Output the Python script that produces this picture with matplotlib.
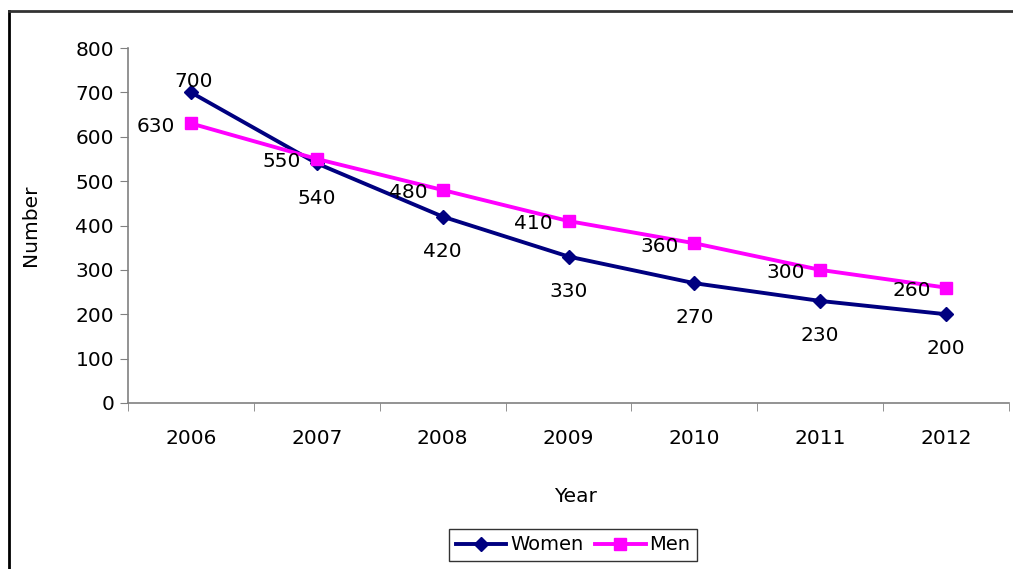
import matplotlib
matplotlib.use("Agg")
import matplotlib.pyplot as plt
from matplotlib.lines import Line2D

years = ["2006", "2007", "2008", "2009", "2010", "2011", "2012"]
women = [700, 540, 420, 330, 270, 230, 200]
men = [630, 550, 480, 410, 360, 300, 260]

plt.rcParams["font.family"] = ["DejaVu Sans"]
fs = 14.5

fig = plt.figure(figsize=(10.13, 5.69), dpi=100)
ax = fig.add_axes([128 / 1013, 1 - 403 / 569, (1009 - 128) / 1013, (403 - 48) / 569])

x = list(range(len(years)))
ax.plot(x, women, color="#000080", lw=2.8, marker="D", ms=7.5, label="Women")
ax.plot(x, men, color="#FF00FF", lw=2.8, marker="s", ms=8, label="Men")

# data labels, Excel style
for i, v in enumerate(women):
    if i == 0:
        ax.annotate(str(v), (i, v), xytext=(2, 8), textcoords="offset points",
                    ha="center", va="center", fontsize=fs)
    else:
        ax.annotate(str(v), (i, v), xytext=(0, -25), textcoords="offset points",
                    ha="center", va="center", fontsize=fs)
for i, v in enumerate(men):
    ax.annotate(str(v), (i, v), xytext=(-25, -2), textcoords="offset points",
                ha="center", va="center", fontsize=fs)

ax.set_xlim(-0.5, len(years) - 0.5)
ax.set_ylim(0, 800)
ax.set_yticks(range(0, 801, 100))
ax.set_xticks(x)
ax.set_xticklabels(years)
ax.set_xticks([i - 0.5 for i in range(len(years) + 1)], minor=True)
ax.tick_params(axis="x", which="major", length=0, pad=19, labelsize=fs)
ax.tick_params(axis="x", which="minor", length=6, color="#808080", direction="out")
ax.tick_params(axis="y", length=6, color="#808080", direction="out", labelsize=fs, pad=4)

for s in ["top", "right"]:
    ax.spines[s].set_visible(False)
for s in ["left", "bottom"]:
    ax.spines[s].set_color("#808080")
    ax.spines[s].set_linewidth(1.2)

fig.text(575 / 1013, 1 - 496 / 569, "Year", ha="center", va="center", fontsize=fs)
fig.text(30 / 1013, 1 - 225 / 569, "Number", ha="center", va="center",
         rotation=90, fontsize=fs)

leg = fig.legend(loc="center", bbox_to_anchor=(573 / 1013, 1 - 545 / 569), ncol=2,
                 fontsize=14, frameon=True, fancybox=False, edgecolor="black",
                 handlelength=2.6, columnspacing=0.6, handletextpad=0.2,
                 borderpad=0.35, borderaxespad=0)
leg.get_frame().set_linewidth(1.0)

# chart area border (top and left visible in the crop)
fig.add_artist(Line2D([9 / 1013, 9 / 1013], [0, 1 - 11 / 569], color="black", lw=2,
                      transform=fig.transFigure))
fig.add_artist(Line2D([9 / 1013, 1], [1 - 11 / 569, 1 - 11 / 569], color="#333333", lw=2,
                      transform=fig.transFigure))

fig.savefig("out.png", dpi=100)
